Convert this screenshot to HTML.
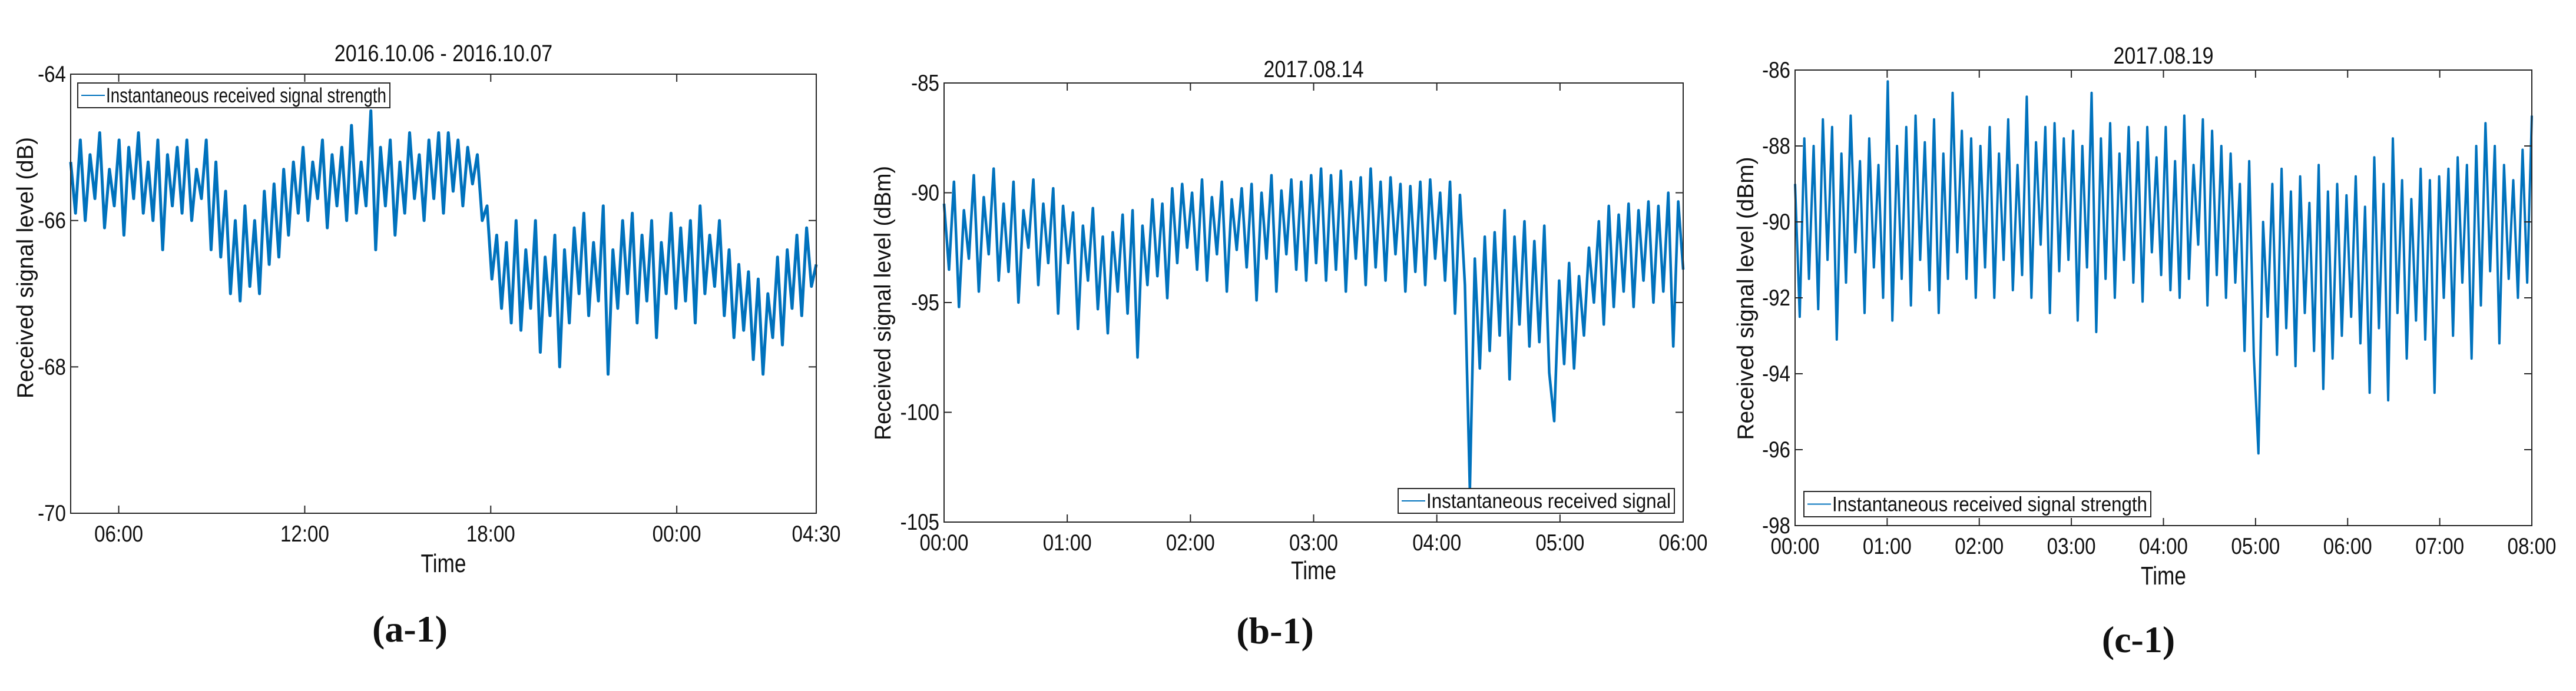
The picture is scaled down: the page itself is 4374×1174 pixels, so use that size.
<!DOCTYPE html>
<html><head><meta charset="utf-8"><style>
html,body{margin:0;padding:0;background:#fff;}
svg{display:block;}
text{font-family:"Liberation Sans",sans-serif;fill:#111;}
</style></head><body>
<svg id="fig" width="4374" height="1174" viewBox="0 0 4374 1174" xmlns="http://www.w3.org/2000/svg"></svg>
<script>
// ---- Panel a data ----
const aTicksX = ["06:00","12:00","18:00","00:00","04:30"];
const aTickHours = [6,12,18,24,28.5];
const aTicksY = [-64,-66,-68,-70];
const aValues = [-65.2,-65.9,-64.9,-66.0,-65.1,-65.7,-64.8,-66.1,-65.3,-65.8,-64.9,-66.2,-65.0,-65.7,-64.8,-65.9,-65.2,-66.0,-64.9,-66.4,-65.1,-65.8,-65.0,-65.9,-64.9,-66.0,-65.3,-65.7,-64.9,-66.4,-65.2,
-66.5,-65.6,-67.0,-66.0,-67.1,-65.8,-66.9,-66.0,-67.0,-65.6,-66.6,-65.5,-66.5,-65.3,-66.2,-65.2,
-65.9,-65.0,-66.0,-65.2,-65.7,-64.9,-66.1,-65.1,-65.8,-65.0,-66.0,-64.7,-65.9,-65.2,-65.8,-64.5,-66.4,-65.0,-65.8,-64.9,-66.2,-65.2,-65.9,-64.8,-65.7,-65.1,-66.0,-64.9,-65.7,-64.8,-65.9,-64.8,-65.6,-64.9,-65.8,-65.0,-65.5,-65.1,
-66.0,-65.8,-66.8,-66.2,-67.2,-66.3,-67.4,-66.0,-67.5,-66.4,-67.2,-66.0,-67.8,-66.5,-67.3,-66.2,-68.0,-66.4,-67.4,-66.1,-67.0,-65.9,-67.3,-66.3,-67.1,-65.8,-68.1,-66.4,-67.2,-66.0,-67.0,-65.9,-67.4,-66.2,-67.1,-66.0,-67.6,-66.3,-67.0,-65.9,-67.2,-66.1,-67.1,-66.0,-67.4,-65.8,-67.0,-66.2,-66.9,-66.0,
-67.3,-66.4,-67.6,-66.6,-67.5,-66.7,-67.9,-66.8,-68.1,-67.0,-67.6,-66.5,-67.7,-66.4,-67.2,-66.2,-67.3,-66.1,-66.9,-66.6];
// ---- Panel b data ----
const bTicksX = ["00:00","01:00","02:00","03:00","04:00","05:00","06:00"];
const bTickHours = [0,1,2,3,4,5,6];
const bTicksY = [-85,-90,-95,-100,-105];
const bValues = [-90.5,-93.5,-89.5,-95.2,-90.8,-93.0,-89.2,-94.5,-90.2,-92.8,-88.9,-94.0,-90.5,-93.6,-89.5,-95.0,-90.8,-92.5,-89.4,-94.2,-90.5,-93.2,-89.8,-95.5,-90.6,
-93.2,-90.9,-96.2,-91.5,-94.0,-90.7,-95.3,-92.0,-96.4,-91.8,-94.5,-91.0,-95.5,-90.8,-97.5,-91.5,-94.2,-90.3,-93.8,-90.5,-94.8,-89.8,-93.2,-89.6,-92.5,
-90.0,-93.5,-89.4,-94.0,-90.2,-92.8,-89.5,-94.5,-90.3,-92.6,-89.8,-93.4,-89.6,-94.9,-90.0,-93.0,-89.2,-94.5,-89.9,-92.8,-89.4,-93.5,-89.5,-94.0,-89.2,
-93.2,-88.9,-94.0,-89.2,-93.5,-89.0,-94.5,-89.5,-93.0,-89.3,-94.2,-88.9,-93.4,-89.5,-94.0,-89.3,-92.8,-89.6,-94.5,-89.7,-93.6,-89.5,-94.2,-89.4,-93.0,
-90.0,-94.0,-89.5,-95.5,-90.1,-94.2,-103.5,-93.0,-98.0,-92.0,-97.2,-91.8,-96.5,-90.8,-98.5,-92.0,-96.0,-91.3,-97.0,-92.2,-96.8,-91.5,-98.2,-100.4,-94.0,
-97.8,-93.2,-98.0,-93.8,-96.5,-92.5,-95.0,-91.3,-96.0,-90.6,-95.2,-91.0,-94.5,-90.5,-95.2,-90.8,-94.0,-90.4,-95.0,-90.6,-94.5,-90.0,-97.0,-90.4,-93.5];
// ---- Panel c data ----
const cTicksX = ["00:00","01:00","02:00","03:00","04:00","05:00","06:00","07:00","08:00"];
const cTickHours = [0,1,2,3,4,5,6,7,8];
const cTicksY = [-86,-88,-90,-92,-94,-96,-98];
const cValues = [-89.0,-92.5,-87.8,-91.5,-88.0,-92.3,-87.3,-91.0,-87.5,-93.1,-88.2,-91.6,-87.2,-90.8,-88.4,-92.4,-87.8,-91.2,-88.5,-92.0,
-86.3,-92.6,-88.0,-91.5,-87.5,-92.2,-87.2,-91.0,-87.9,-91.8,-87.3,-92.4,-88.2,-91.5,-86.6,-90.8,-87.6,-91.5,-87.8,-92.0,
-88.0,-91.2,-87.5,-92.0,-88.2,-91.0,-87.3,-91.8,-88.5,-91.4,-86.7,-92.0,-87.9,-90.6,-87.5,-92.4,-87.4,-91.3,-87.8,-91.0,
-87.6,-92.6,-88.0,-91.2,-86.6,-92.9,-87.8,-91.5,-87.4,-92.0,-88.2,-91.0,-87.5,-91.6,-87.9,-92.1,-87.5,-90.8,-88.3,-91.4,
-87.5,-91.8,-88.4,-92.0,-87.2,-91.5,-88.5,-90.6,-87.3,-92.2,-87.6,-91.4,-88.0,-92.0,-88.2,-91.6,-89.0,-93.4,-88.4,-93.5,
-96.1,-90.0,-92.5,-89.0,-93.5,-88.6,-92.8,-89.2,-93.8,-88.8,-92.4,-89.5,-93.4,-88.5,-94.4,-89.2,-93.6,-89.0,-93.0,-89.3,
-92.5,-88.8,-93.2,-89.6,-94.5,-88.3,-92.8,-89.0,-94.7,-87.8,-92.4,-88.9,-93.6,-89.4,-92.6,-88.6,-93.1,-88.9,-94.5,-88.8,
-92.0,-88.6,-93.0,-88.3,-91.6,-88.5,-93.6,-88.0,-92.2,-87.4,-91.3,-88.0,-93.2,-88.5,-91.5,-88.9,-92.0,-88.1,-91.6,-87.2];

const NS = "http://www.w3.org/2000/svg";
const fig = document.getElementById("fig");
function mk(tag, attrs, parent){ const e=document.createElementNS(NS,tag); for(const k in attrs) e.setAttribute(k,attrs[k]); (parent||fig).appendChild(e); return e; }

function panel(cfg){
  const g = mk("g",{});
  
  
  const L=cfg.L,R=cfg.R,T=cfg.T,B=cfg.B;
  const xs = h => L + (h - cfg.h0)/(cfg.h1 - cfg.h0)*(R-L);
  const ys = v => T + (cfg.yMax - v)/(cfg.yMax - cfg.yMin)*(B-T);
  const n = cfg.values.length;
  const pts = cfg.values.map((v,i)=> xs(cfg.h0 + i/(n-1)*(cfg.h1-cfg.h0)).toFixed(1)+","+ys(v).toFixed(1)).join(" ");
  const line = mk("polyline",{points:pts,fill:"none",stroke:"#0072BD","stroke-width":cfg.sw,"stroke-linejoin":"round"},g);
  
  
  const box = mk("rect",{x:L,y:T,width:R-L,height:B-T,fill:"none",stroke:"#262626","stroke-width":"2"},g);
  
  
  cfg.tickHours.forEach((h,i)=>{
    const x=xs(h);
    mk("line",{x1:x,y1:B,x2:x,y2:B-13,stroke:"#262626","stroke-width":"2"},g);
    mk("line",{x1:x,y1:T,x2:x,y2:T+13,stroke:"#262626","stroke-width":"2"},g);
    const t=mk("text",{transform:`translate(${x},${B+48}) scale(0.85,1)`,"text-anchor":"middle","font-size":"39"},g);
    t.textContent=cfg.ticksX[i];
    
    
  });
  cfg.ticksY.forEach(v=>{
    const y=ys(v);
    mk("line",{x1:L,y1:y,x2:L+13,y2:y,stroke:"#262626","stroke-width":"2"},g);
    mk("line",{x1:R,y1:y,x2:R-13,y2:y,stroke:"#262626","stroke-width":"2"},g);
    const t=mk("text",{transform:`translate(${L-8},${y+13}) scale(0.85,1)`,"text-anchor":"end","font-size":"39"},g);
    t.textContent=String(v);
    
    
  });
  const ti=mk("text",{transform:`translate(${(L+R)/2},${cfg.titleY}) scale(0.85,1)`,"text-anchor":"middle","font-size":"40"},g);
  ti.textContent=cfg.title;
  
  
  const xl=mk("text",{transform:`translate(${(L+R)/2},${cfg.timeY}) scale(0.8,1)`,"text-anchor":"middle","font-size":"44"},g);
  xl.textContent="Time";
  
  
  const yl=mk("text",{transform:`translate(${cfg.ylX},${cfg.ylY}) rotate(-90)`,"text-anchor":"middle","font-size":"39",textLength:cfg.ylLen,lengthAdjust:"spacingAndGlyphs"},g);
  yl.textContent=cfg.ylabel;
  
  
  const lg=mk("g",{},g);
  
  
  const lb=cfg.leg;
  mk("rect",{x:lb[0],y:lb[1],width:lb[2]-lb[0],height:lb[3]-lb[1],fill:"#fff",stroke:"#262626","stroke-width":"2"},lg);
  const my=(lb[1]+lb[3])/2;
  const ls=mk("line",{x1:lb[0]+6,y1:my,x2:lb[0]+46,y2:my,stroke:"#0072BD","stroke-width":"2"},lg);
  
  
  const lt=mk("text",{x:lb[0]+48,y:my+12,"font-size":"35",textLength:lb[2]-lb[0]-54,lengthAdjust:"spacingAndGlyphs"},lg);
  lt.textContent=cfg.legText;
  
  
  const cap=mk("text",{x:cfg.capX,y:cfg.capY,"text-anchor":"middle","font-size":"64","font-weight":"bold",style:"font-family:'Liberation Serif',serif"},g);
  cap.innerHTML='(<tspan>'+cfg.cap+'</tspan>)';
  
  
}

panel({id:"a",sw:5,L:120,R:1386,T:126,B:872,h0:4.45,h1:28.5,yMin:-70,yMax:-64,values:aValues,ticksX:aTicksX,tickHours:aTickHours,ticksY:aTicksY,
  title:"2016.10.06 - 2016.10.07",titleY:104,timeY:972,ylX:56,ylY:455,ylLen:444,ylabel:"Received signal level (dB)",
  leg:[132,141,662,183],legText:"Instantaneous received signal strength",cap:"a-1",capX:696,capY:1090});
panel({id:"b",sw:4.5,L:1603,R:2858,T:141,B:887,h0:0,h1:6,yMin:-105,yMax:-85,values:bValues,ticksX:bTicksX,tickHours:bTickHours,ticksY:bTicksY,
  title:"2017.08.14",titleY:131,timeY:984,ylX:1512,ylY:515,ylLen:466,ylabel:"Received signal level (dBm)",
  leg:[2374,830,2843,872],legText:"Instantaneous received signal",cap:"b-1",capX:2165,capY:1093});
panel({id:"c",sw:4,L:3048,R:4299,T:119,B:893,h0:0,h1:8,yMin:-98,yMax:-86,values:cValues,ticksX:cTicksX,tickHours:cTickHours,ticksY:cTicksY,
  title:"2017.08.19",titleY:108,timeY:993,ylX:2977,ylY:507,ylLen:481,ylabel:"Received signal level (dBm)",
  leg:[3063,835,3652,878],legText:"Instantaneous received signal strength",cap:"c-1",capX:3631,capY:1108});
</script>
</body></html>
